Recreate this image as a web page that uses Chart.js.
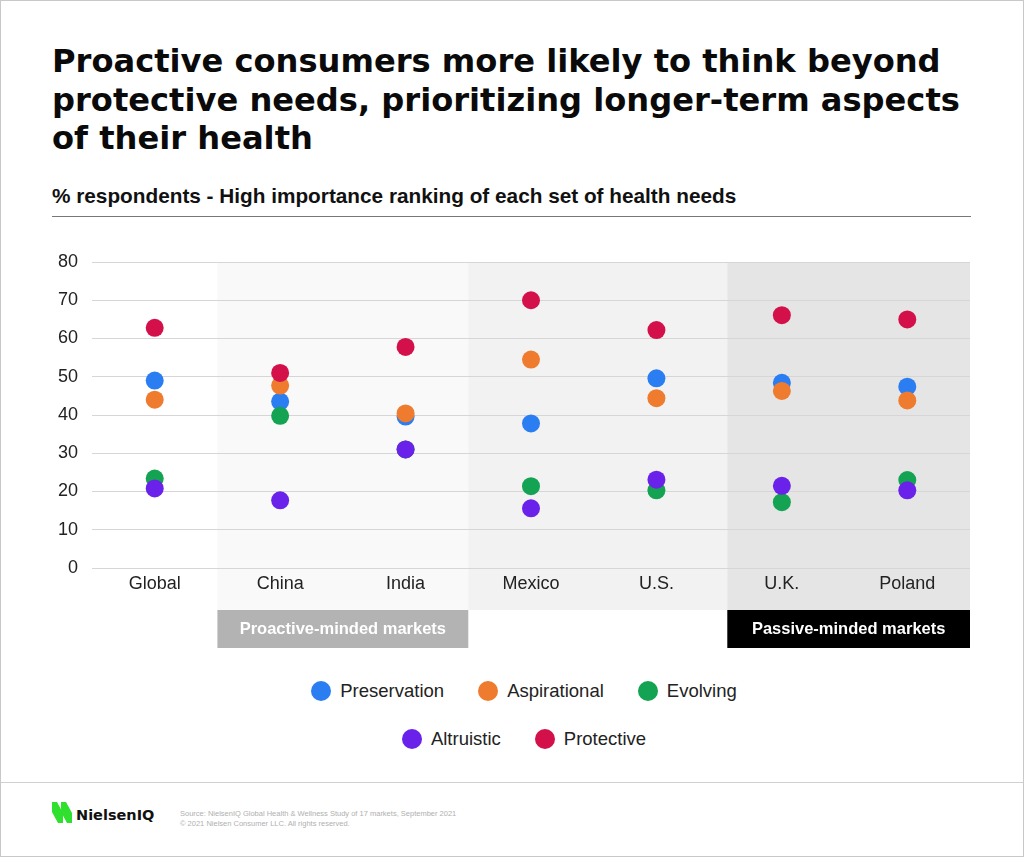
<!DOCTYPE html>
<html><head><meta charset="utf-8">
<script src="https://cdn.jsdelivr.net/npm/chart.js@4.4.0/dist/chart.umd.min.js"></script>
<style>
html,body{margin:0;padding:0;background:#fff;}
#page{position:relative;width:1024px;height:857px;box-sizing:border-box;border:1px solid #c8c8c8;overflow:hidden;font-family:"Liberation Sans",Arial,sans-serif;color:#111;}
#title{position:absolute;left:51px;top:41px;font-family:"DejaVu Sans",sans-serif;font-weight:bold;font-size:27px;line-height:38.7px;white-space:nowrap;color:#0a0a0a;}
#title span{display:inline-block;}
#subtitle{position:absolute;left:51px;top:183px;font-weight:bold;font-size:20px;white-space:nowrap;color:#111;}
#rule{position:absolute;left:51px;top:215px;width:919px;height:0;border-top:1.5px solid #777;}
#chartBox{position:absolute;left:-1px;top:239px;width:1024px;height:420px;}
#legend{position:absolute;left:21px;width:1004px;top:666px;font-size:18.5px;color:#222;}
.lrow{display:flex;justify-content:center;height:48px;align-items:center;}
.litem{display:flex;align-items:center;margin:0 17px;}
.ldot{width:20px;height:20px;border-radius:50%;margin-right:9px;}
#footline{position:absolute;left:0;top:781px;width:1024px;border-top:1.5px solid #d0d0d0;}
#logo{position:absolute;left:51px;top:801px;}
#logotext{position:absolute;left:75px;top:806px;font-family:"DejaVu Sans",sans-serif;font-weight:bold;font-size:14.5px;color:#111;}
#source{position:absolute;left:179px;top:808px;font-size:7.5px;line-height:10px;color:#b0b0b0;}
</style>
</head><body>
<div id="page">
  <div id="title"><div><span id="t1">Proactive consumers more likely to think beyond</span></div><div><span>protective needs, prioritizing longer-term aspects</span></div><div><span>of their health</span></div></div>
  <div id="subtitle">% respondents - High importance ranking of each set of health needs</div>
  <div id="rule"></div>
  <div id="chartBox"><canvas id="c" width="1024" height="420"></canvas></div>
  <div id="legend"></div>
  <div id="footline"></div>
  <svg id="logo" width="24" height="22" viewBox="0 0 24 22">
    <polygon points="0,0 5,0 11,11 11,21 6,21 0,10" fill="#2fe02f"/>
    <polygon points="9,0 14,0 20,11 20,21 15,21 9,10" fill="#2fe02f"/>
  </svg>
  <div id="logotext">NielsenIQ</div>
  <div id="source">Source: NielsenIQ Global Health &amp; Wellness Study of 17 markets, September 2021<br>© 2021 Nielsen Consumer LLC. All rights reserved.</div>
</div>
<script>
// ---- data ----
const categories = ['Global', 'China', 'India', 'Mexico', 'U.S.', 'U.K.', 'Poland'];
const seriesNames = ['Preservation', 'Aspirational', 'Evolving', 'Altruistic', 'Protective'];
const preservation = [49, 43.5, 39.6, 37.8, 49.6, 48.4, 47.4];
const aspirational = [44, 47.7, 40.4, 54.5, 44.4, 46.3, 43.8];
const evolving     = [23.4, 39.8, 31, 21.4, 20.3, 17.2, 23];
const altruistic   = [20.8, 17.7, 31, 15.6, 23.1, 21.5, 20.3];
const protective   = [62.8, 51, 57.8, 70, 62.2, 66.1, 65];
const yTicks = [0, 10, 20, 30, 40, 50, 60, 70, 80];
const bandGroups = [['China', 'India'], ['Mexico', 'U.S.'], ['U.K.', 'Poland']];
const groupLabels = [['Proactive-minded markets', 'China', 'India'], ['Passive-minded markets', 'U.K.', 'Poland']];

// ---- styles ----
const seriesColors = ['#2a7ef2', '#ee7b2e', '#14a352', '#6a22ea', '#d3104a'];
const bandColors = ['#f9f9f9', '#f2f2f2', '#e5e5e5'];
const bandLeftShift = [0, 0, 0.065];   // fraction of a category step
const bandRightShift = [0, 0.065, 0];
const boxColors = ['#b3b3b3', '#000000'];
const boxLeftShift = [0, 0.065];

// fit title widths
(function(){
  const t1 = document.getElementById('t1');
  const title = document.getElementById('title');
  const w = t1.getBoundingClientRect().width;
  title.style.fontSize = (27 * 889 / w) + 'px';
  const st = document.getElementById('subtitle');
  const sw = st.getBoundingClientRect().width;
  st.style.fontSize = (20 * 685 / sw) + 'px';
})();

// legend
const legend = document.getElementById('legend');
[[0,1,2],[3,4]].forEach(row => {
  const r = document.createElement('div'); r.className = 'lrow';
  row.forEach(i => {
    const it = document.createElement('div'); it.className = 'litem';
    it.innerHTML = '<span class="ldot" style="background:' + seriesColors[i] + '"></span><span>' + seriesNames[i] + '</span>';
    r.appendChild(it);
  });
  legend.appendChild(r);
});

const seriesData = [preservation, aspirational, evolving, altruistic, protective];

function bounds(scale, from, to, lshift, rshift) {
  const i0 = categories.indexOf(from), i1 = categories.indexOf(to);
  const step = scale.getPixelForValue(1) - scale.getPixelForValue(0);
  return [scale.getPixelForValue(i0) - step / 2 + (lshift || 0) * step,
          scale.getPixelForValue(i1) + step / 2 + (rshift || 0) * step];
}

const bandPlugin = {
  id: 'bands',
  beforeDraw(chart) {
    const ctx = chart.ctx, x = chart.scales.x, a = chart.chartArea;
    ctx.save();
    bandGroups.forEach((g, k) => {
      const [l, r] = bounds(x, g[0], g[1], bandLeftShift[k], bandRightShift[k]);
      ctx.fillStyle = bandColors[k];
      ctx.fillRect(l, a.top, r - l, a.bottom + 42 - a.top);
    });
    groupLabels.forEach((g, k) => {
      const [l, r] = bounds(x, g[1], g[2], boxLeftShift[k], 0);
      const top = a.bottom + 42;
      ctx.fillStyle = boxColors[k];
      ctx.fillRect(l, top, r - l, 38);
      ctx.fillStyle = '#ffffff';
      ctx.font = 'bold 16.5px "Liberation Sans", Arial, sans-serif';
      ctx.textAlign = 'center';
      ctx.textBaseline = 'middle';
      ctx.fillText(g[0], (l + r) / 2, top + 19);
    });
    ctx.restore();
  }
};

new Chart(document.getElementById('c'), {
  type: 'line',
  data: {
    labels: categories,
    datasets: seriesNames.map((n, i) => ({
      label: n,
      data: seriesData[i],
      order: seriesNames.length - i,
      showLine: false,
      pointRadius: 9,
      pointHoverRadius: 9,
      pointBorderWidth: 0,
      pointBackgroundColor: seriesColors[i],
      borderColor: seriesColors[i],
      backgroundColor: seriesColors[i]
    }))
  },
  options: {
    responsive: false,
    animation: false,
    devicePixelRatio: 1,
    layout: { padding: { top: 22, left: 42, right: 54, bottom: 52 } },
    plugins: { legend: { display: false }, tooltip: { enabled: false } },
    scales: {
      x: {
        type: 'category',
        offset: true,
        grid: { display: false, drawTicks: false },
        border: { display: false },
        ticks: { color: '#222', font: { family: '"Liberation Sans", Arial, sans-serif', size: 18 }, padding: 5, maxRotation: 0 },
        afterFit(s) { s.height = 40; s.paddingLeft = 0; s.paddingRight = 0; }
      },
      y: {
        min: 0, max: 80,
        afterBuildTicks(s) { s.ticks = yTicks.map(v => ({ value: v })); },
        grid: { color: '#d6d6d6', lineWidth: 1, drawTicks: false },
        border: { display: false },
        ticks: { color: '#222', font: { family: '"Liberation Sans", Arial, sans-serif', size: 18 }, padding: 14 },
        afterFit(s) { s.width = 50; s.paddingTop = 0; s.paddingBottom = 0; }
      }
    }
  },
  plugins: [bandPlugin]
});
</script>
</body></html>
